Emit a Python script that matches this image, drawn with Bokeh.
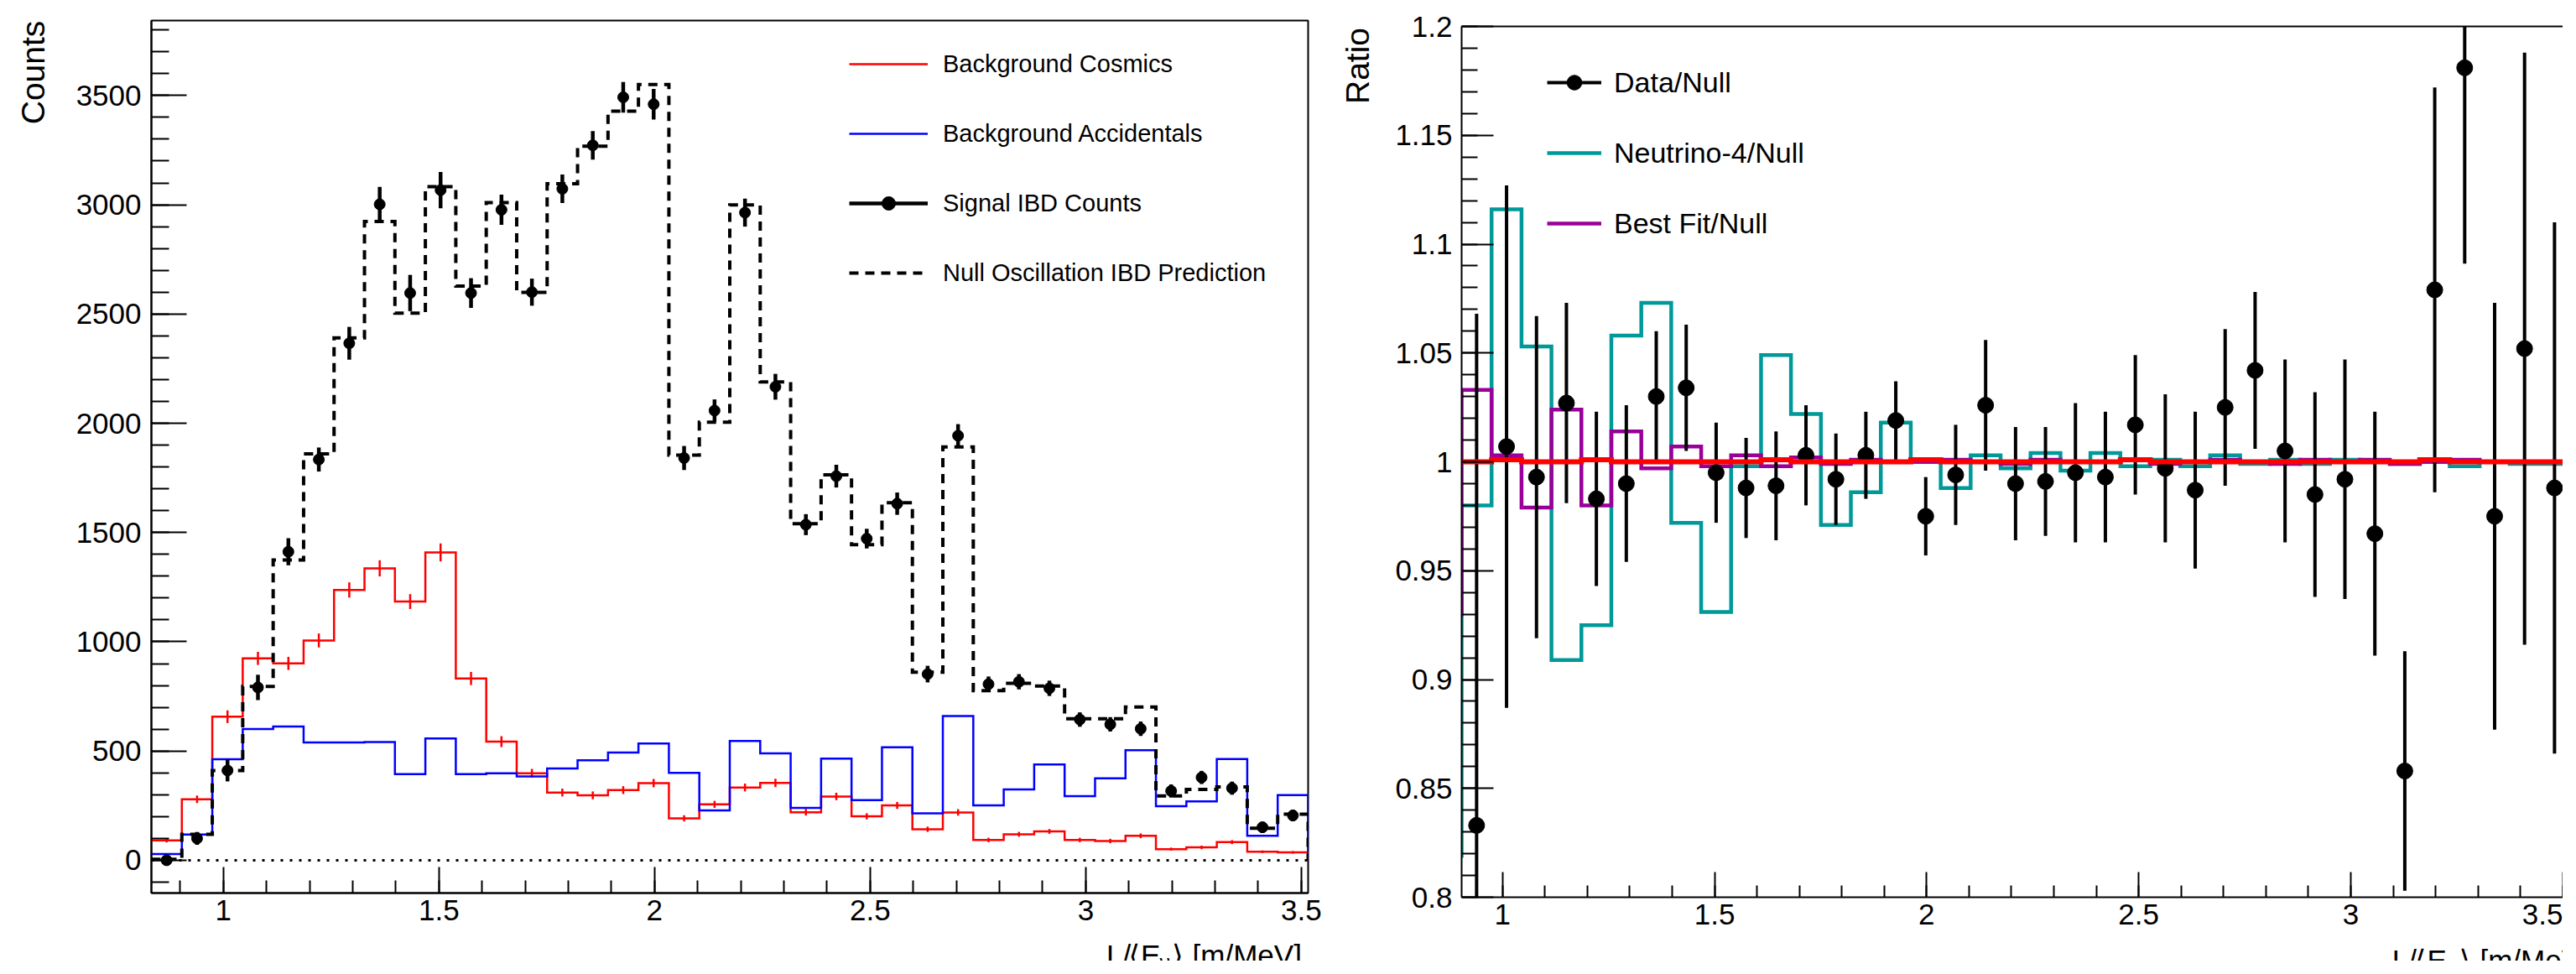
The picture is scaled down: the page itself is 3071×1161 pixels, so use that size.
import numpy as np
from bokeh.plotting import figure
from bokeh.models import (ColumnDataSource, FixedTicker, CustomJSTickFormatter,
                          Legend, LegendItem, Label, LinearAxis, Range1d, Span)
from bokeh.layouts import row, column
from bokeh.embed import file_html
from bokeh.resources import INLINE

FONT = "Liberation Sans"

# ---------------- data ----------------
first_edge = 0.833      # L/<E> of first bin edge [m/MeV]
bin_width = 0.0706
n_bins = 38

cosmics = [91, 279, 657, 924, 901, 1006, 1237, 1336, 1184, 1409,
           832, 543, 398, 310, 297, 321, 353, 192, 256,
           333, 354, 220, 292, 201, 251, 142, 219, 93, 119, 132,
           93, 88, 112, 51, 59, 83, 39, 36]
cosmics_err = [10, 17, 29, 30, 30, 32, 35, 37, 34, 41,
               30, 25, 20, 18, 18, 18, 19, 14, 16,
               18, 19, 15, 17, 14, 16, 12, 15, 10, 11, 11,
               10, 10, 11, 7, 8, 9, 6, 6]
accidentals = [29, 118, 462, 601, 612, 539, 539, 541, 394, 557,
               394, 398, 384, 420, 458, 493, 534, 400, 228,
               546, 489, 240, 465, 275, 517, 215, 660, 251, 324, 438,
               293, 375, 504, 247, 269, 463, 112, 298]
null_pred = [5, 119, 411, 795, 1374, 1860, 2391, 2923, 2504, 3083,
             2628, 3010, 2599, 3096, 3268, 3428, 3550, 1854, 2005,
             2999, 2189, 1540, 1764, 1444, 1636, 861, 1892, 776, 810, 797,
             648, 648, 701, 294, 324, 336, 147, 211]
signal = [0, 100, 411, 791, 1412, 1834, 2366, 3002, 2596, 3067,
          2596, 2977, 2600, 3073, 3272, 3492, 3460, 1841, 2058,
          2964, 2167, 1536, 1758, 1472, 1632, 852, 1943, 806, 817, 787,
          644, 622, 602, 317, 379, 330, 151, 205]
signal_err = [10, 29, 50, 58, 62, 55, 75, 80, 83, 83,
              68, 69, 62, 65, 65, 70, 70, 55, 51,
              64, 59, 48, 52, 45, 51, 38, 53, 35, 35, 35,
              33, 33, 33, 30, 30, 30, 25, 26]

# ratio panel (data shown for bins 2..38)
ratio_data = [0.833, 1.007, 0.993, 1.027, 0.983, 0.990, 1.030, 1.034, 0.995,
              0.988, 0.989, 1.003, 0.992, 1.003, 1.019, 0.975, 0.994, 1.026,
              0.990, 0.991, 0.995, 0.993, 1.017, 0.997, 0.987, 1.025, 1.042,
              1.005, 0.985, 0.992, 0.967, 0.858, 1.079, 1.181, 0.975, 1.052, 0.988]
ratio_err = [0.235, 0.12, 0.074, 0.046, 0.040, 0.036, 0.030, 0.029, 0.023,
             0.023, 0.025, 0.023, 0.021, 0.020, 0.018, 0.018, 0.023, 0.030,
             0.026, 0.025, 0.032, 0.030, 0.032, 0.034, 0.036, 0.036, 0.036,
             0.042, 0.047, 0.055, 0.056, 0.055, 0.093, 0.090, 0.098, 0.136, 0.122]
nu4_ratio = [0.819, 0.980, 1.116, 1.053, 0.909, 0.925, 1.058, 1.073, 0.972, 0.931,
             0.998, 1.049, 1.022, 0.971, 0.986, 1.018, 1.000, 0.988, 1.003, 0.997,
             1.004, 0.996, 1.004, 0.998, 1.001, 0.998, 1.003, 0.999, 1.001, 0.999,
             1.001, 1.000, 0.999, 1.000, 0.998, 1.000, 0.999, 0.999]
bestfit_ratio = [0.930, 1.033, 1.003, 0.979, 1.024, 0.980, 1.014, 0.997, 1.007, 0.998,
                 1.003, 0.998, 1.002, 0.999, 1.001, 1.000, 1.000, 1.001, 1.000, 0.999,
                 1.001, 1.000, 1.000, 1.001, 0.999, 1.000, 1.001, 1.000, 0.999, 1.001,
                 1.000, 1.001, 0.999, 1.000, 1.001, 1.000, 1.000, 1.000]
flat_ratio = [1.000, 1.000, 1.001, 1.000, 1.000, 1.001, 1.000, 1.000, 1.000, 1.000,
              1.000, 1.001, 1.000, 1.000, 1.000, 1.000, 1.001, 1.000, 1.000, 1.000,
              1.000, 1.000, 1.000, 1.001, 1.000, 1.000, 1.000, 1.000, 1.000, 1.000,
              1.000, 1.000, 1.000, 1.001, 1.000, 1.000, 1.000, 1.000]

x_major = [1.0, 1.5, 2.0, 2.5, 3.0, 3.5]
x_minor = [round(0.9 + 0.1 * i, 2) for i in range(27)]
counts_major = [0, 500, 1000, 1500, 2000, 2500, 3000, 3500]
counts_minor = [-100 + 100 * i for i in range(40)]
ratio_major = [0.8, 0.85, 0.9, 0.95, 1.0, 1.05, 1.1, 1.15, 1.2]
ratio_minor = [round(0.8 + 0.01 * i, 2) for i in range(41)]

y_title_left = "Counts"
y_title_right = "Ratio"
x_title_parts = ["L/", "\u27e8", "E", "\u03bd", "\u27e9", "[m/MeV]"]

# ---------------- derived ----------------
edges = first_edge + bin_width * np.arange(n_bins + 1)
centers = 0.5 * (edges[:-1] + edges[1:])


def step_src(vals, close_zero=False):
    ys = list(vals) + [0.0 if close_zero else vals[-1]]
    return ColumnDataSource(dict(x=list(edges), y=ys))


fmt = CustomJSTickFormatter(code="""
let s = tick.toFixed(2); s = s.replace(/0+$/, ''); s = s.replace(/\\.$/, ''); return s;
""")


def style_axis(ax, tick_in, minor_in, standoff):
    ax.axis_line_width = 2
    ax.major_tick_line_width = 2
    ax.minor_tick_line_width = 2
    ax.major_tick_in = tick_in
    ax.major_tick_out = 0
    ax.minor_tick_in = minor_in
    ax.minor_tick_out = 0
    ax.major_label_text_font = FONT
    ax.major_label_text_font_size = "35px"
    ax.major_label_text_color = "black"
    ax.major_label_standoff = standoff
    ax.formatter = fmt


def strip(width, height):
    """A blank figure whose frame is the whole canvas, in local pixel units
    (x from the left edge, y from the bottom edge)."""
    f = figure(width=width, height=height, output_backend="svg", toolbar_location=None,
               x_range=Range1d(0, width), y_range=Range1d(0, height),
               min_border=0, x_axis_location=None, y_axis_location=None)
    f.outline_line_color = None
    f.xgrid.visible = False
    f.ygrid.visible = False
    f.background_fill_color = "white"
    f.border_fill_color = "white"
    return f


def vertical_title(f, text, x_mid, y_mid_from_top):
    f.add_layout(Label(x=x_mid, y=f.height - y_mid_from_top, text=text, angle=np.pi / 2,
                       text_align="center", text_baseline="middle", text_font=FONT,
                       text_font_size="39px", text_color="black"))


def x_title(f, left, base_from_top):
    # pieces are left-aligned one after another: L/ < E (nu) > [m/MeV]
    base = f.height - base_from_top
    layout = [(0, FONT, "35px", 0), (29, "DejaVu Sans", "35px", 0), (45, FONT, "35px", 0),
              (70, FONT, "25px", -8), (86, "DejaVu Sans", "35px", 0), (113, FONT, "35px", 0)]
    for txt, (dx, font, size, dy) in zip(x_title_parts, layout):
        f.add_layout(Label(x=left + dx, y=base + dy, text=txt, text_align="left",
                           text_baseline="alphabetic", text_font=font,
                           text_font_size=size, text_color="black"))


# ================= left panel =================
p1 = figure(width=1520, height=1112, output_backend="svg", toolbar_location=None,
            x_range=Range1d(edges[0], edges[-1]), y_range=Range1d(-150, 3843),
            min_border_left=118, min_border_right=23, min_border_top=24, min_border_bottom=48)
p1.xgrid.visible = False
p1.ygrid.visible = False
p1.outline_line_color = "black"
p1.outline_line_width = 2
p1.background_fill_color = "white"
p1.border_fill_color = "white"
p1.xaxis.ticker = FixedTicker(ticks=x_major, minor_ticks=x_minor)
p1.yaxis.ticker = FixedTicker(ticks=counts_major, minor_ticks=counts_minor)
style_axis(p1.xaxis[0], 31, 15, 8)
style_axis(p1.yaxis[0], 42, 21, 12)

p1.add_layout(Span(location=0, dimension="width", line_color="black",
                   line_width=3, line_dash="3 8"))

r_red = p1.step("x", "y", source=step_src(cosmics, True), mode="after",
                line_color="#ff0000", line_width=2.5, line_join="miter")
p1.segment(x0=centers, y0=np.array(cosmics) - np.array(cosmics_err),
           x1=centers, y1=np.array(cosmics) + np.array(cosmics_err),
           line_color="#ff0000", line_width=2.5)
r_blue = p1.step("x", "y", source=step_src(accidentals, True), mode="after",
                 line_color="#0000ff", line_width=2.5, line_join="miter")
r_null = p1.step("x", "y", source=step_src(null_pred, True), mode="after",
                 line_color="black", line_width=4, line_dash="11 8", line_join="miter")
r_sig_err = p1.segment(x0=centers, y0=np.array(signal) - np.array(signal_err),
                       x1=centers, y1=np.array(signal) + np.array(signal_err),
                       line_color="black", line_width=4.5)
r_sig = p1.scatter(centers, signal, size=13, marker="circle", color="black")

leg1 = Legend(items=[
    LegendItem(label="Background Cosmics", renderers=[r_red]),
    LegendItem(label="Background Accidentals", renderers=[r_blue]),
    LegendItem(label="Signal IBD Counts", renderers=[r_sig_err, r_sig]),
    LegendItem(label="Null Oscillation IBD Prediction", renderers=[r_null]),
], location=(832, 719), glyph_width=94, glyph_height=40, label_height=40,
    label_standoff=18, spacing=43, padding=0, margin=0,
    border_line_color=None, background_fill_alpha=0,
    label_text_font=FONT, label_text_font_size="29px", label_text_color="black")
p1.add_layout(leg1)

s_counts = strip(62, 1145)          # page x 8..70, y 8..1153
vertical_title(s_counts, y_title_left, 38.5, 86)
t1 = strip(1520, 33)                # page x 70..1590, y 1120..1153
x_title(t1, 1325 - 70, 26)

# ================= right panel =================
x2_start = edges[1]
x2_end = 3.5005
p2 = figure(width=1418, height=1118, output_backend="svg", toolbar_location=None,
            x_range=Range1d(x2_start, x2_end), y_range=Range1d(0.8, 1.2),
            min_border_left=105, min_border_right=0, min_border_top=31, min_border_bottom=49)
p2.xgrid.visible = False
p2.ygrid.visible = False
p2.outline_line_color = None
p2.background_fill_color = "white"
p2.border_fill_color = "white"
p2.xaxis.ticker = FixedTicker(ticks=x_major, minor_ticks=x_minor)
p2.yaxis.ticker = FixedTicker(ticks=ratio_major, minor_ticks=ratio_minor)
style_axis(p2.xaxis[0], 30, 14, 8)
style_axis(p2.yaxis[0], 38, 19, 11)
top_ax = LinearAxis(ticker=FixedTicker(ticks=[]), axis_line_width=2,
                    major_tick_in=0, major_tick_out=0, minor_tick_in=0, minor_tick_out=0,
                    major_label_text_font_size="0px")
p2.add_layout(top_ax, "above")

r_nu4 = p2.step("x", "y", source=step_src(nu4_ratio), mode="after",
                line_color="#009999", line_width=4.5, line_join="miter")
r_bf = p2.step("x", "y", source=step_src(bestfit_ratio), mode="after",
               line_color="#990099", line_width=4.5, line_join="miter")
rc = centers[1:]
r_d_err = p2.segment(x0=rc, y0=np.array(ratio_data) - np.array(ratio_err),
                     x1=rc, y1=np.array(ratio_data) + np.array(ratio_err),
                     line_color="black", line_width=4)
r_d = p2.scatter(rc, ratio_data, size=19, marker="circle", color="black")
p2.step("x", "y", source=step_src(flat_ratio), mode="after",
        line_color="#ff0000", line_width=6, line_join="miter")

leg2 = Legend(items=[
    LegendItem(label="Data/Null", renderers=[r_d_err, r_d]),
    LegendItem(label="Neutrino-4/Null", renderers=[r_nu4]),
    LegendItem(label="Best Fit/Null", renderers=[r_bf]),
], location=(102, 781), glyph_width=65, glyph_height=44, label_height=44,
    label_standoff=15, spacing=40, padding=0, margin=0,
    border_line_color=None, background_fill_alpha=0,
    label_text_font=FONT, label_text_font_size="34px", label_text_color="black")
p2.add_layout(leg2)

s_ratio = strip(55, 1145)           # page x 1590..1645
vertical_title(s_ratio, y_title_right, 35.5, 78)
t2 = strip(1418, 27)                # page x 1645..3063, y 1126..1153
x_title(t2, 2843 - 1645, 26)

layout = row(s_counts, column(p1, t1, spacing=0), s_ratio, column(p2, t2, spacing=0), spacing=0)
open("out.html", "w").write(file_html(layout, INLINE))
